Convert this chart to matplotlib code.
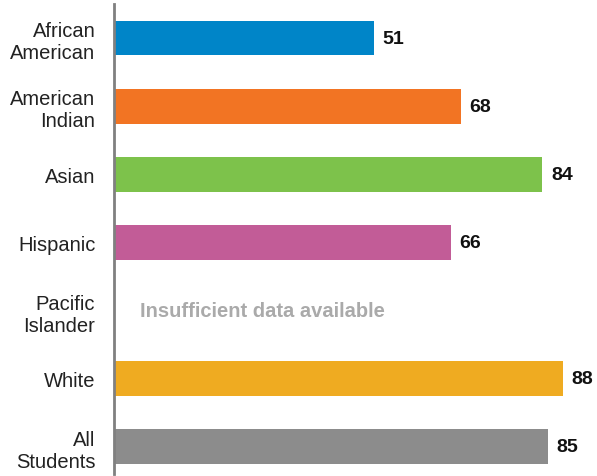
import matplotlib
matplotlib.use('Agg')
import matplotlib.pyplot as plt

# data
groups = ['African\nAmerican', 'American\nIndian', 'Asian', 'Hispanic',
          'Pacific\nIslander', 'White', 'All\nStudents']
values = [51, 68, 84, 66, None, 88, 85]
colors = ['#0085c8', '#f27423', '#7dc24b', '#c25c97', '#ffffff', '#efab21', '#8c8c8c']
missing_note = 'Insufficient data available'

plt.rcParams['font.family'] = ['Liberation Sans', 'DejaVu Sans']

fig = plt.figure(figsize=(5.97, 4.77), dpi=100)
ax = fig.add_axes([114 / 597, 2 / 477, 483 / 597, 470 / 477])

pos = list(range(len(groups)))
for i, v in enumerate(values):
	if v is None:
		ax.text(5.1, i, missing_note, va='center', ha='left', fontsize=14.5,
			fontweight='bold', color='#aaaaaa')
		continue
	ax.barh(i, v, height=0.51, color=colors[i])
	ax.text(v + 1.7, i, str(v), va='center', ha='left', fontsize=14,
		fontweight='bold', color='#111111')

ax.set_xlim(0, 94.7)
ax.set_ylim(6.4, -0.5)
ax.set_yticks(pos)
ax.set_yticklabels(groups, fontsize=14.5, color='#222222', linespacing=1.22)
ax.tick_params(axis='y', length=0, pad=13.5)
ax.set_xticks([])
for s in ['top', 'right', 'bottom']:
	ax.spines[s].set_visible(False)
ax.spines['left'].set_color('#808080')
ax.spines['left'].set_linewidth(2)

fig.savefig('out.png', dpi=100)
